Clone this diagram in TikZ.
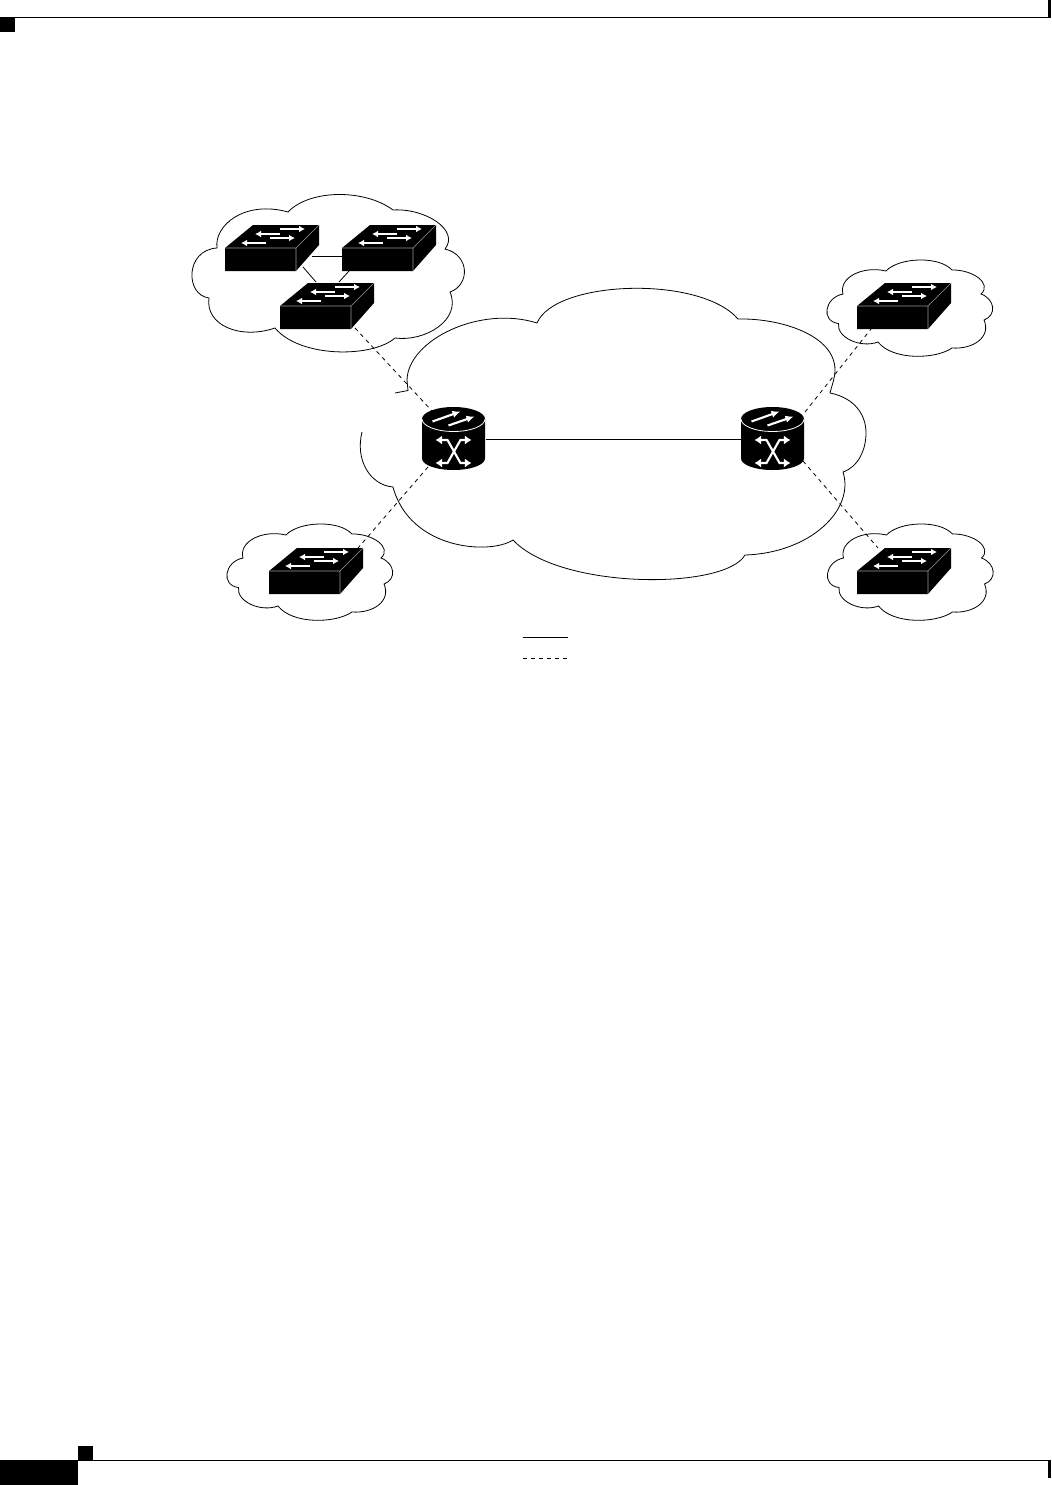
\documentclass[tikz,border=0pt]{standalone}
\usepackage{tikz}
\usetikzlibrary{arrows.meta}

\tikzset{
  hair/.style={line width=0.6pt},
  arrowline/.style={white,line width=1.3pt},
  switchbox/.pic={
    % top face, front face
    \fill[black] (0,0) -- (28,-23) -- (94,-23) -- (94,-3) -- (71,23) -- (0,23) -- cycle;
    \draw[white!60!black,line width=0.5pt] (0,0) -- (71,0) -- (94,-23) (71,0) -- (71,23);
    \foreach \xa/\xb/\ya in {55/80/-19,55/30/-14,45/70/-10,41/16/-5}
      \draw[arrowline,-{Latex[length=4.5pt,width=5pt]}] (\xa,\ya) -- (\xb,\ya);
    \coordinate (-ea) at (87,8);
    \coordinate (-we) at (0,8);
    \coordinate (-se) at (75,22);
    \coordinate (-sa) at (78,19);
    \coordinate (-sb) at (7,23);
    \coordinate (-so) at (14,23);
    \coordinate (-na) at (36,-24);
    \coordinate (-nb) at (59,-24);
    \coordinate (-nc) at (89,-23);
    \coordinate (-no) at (21,-23);
  },
  routerbox/.pic={
    \fill[black] (-31.5,-19.5) arc[start angle=180,end angle=360,x radius=31.5,y radius=12]
      -- (31.5,20) arc[start angle=0,end angle=180,x radius=31.5,y radius=11.5] -- cycle;
    \draw[white,line width=0.6pt] (-31.5,-19.5) arc[start angle=180,end angle=0,x radius=31.5,y radius=12.5];
    \draw[arrowline,line width=1.6pt,-{Latex[length=6pt,width=5.5pt]}] (-21,-17) -- (7,-27);
    \draw[arrowline,line width=1.6pt,-{Latex[length=6pt,width=5.5pt]}] (-5,-13) -- (21,-22);
    \draw[arrowline,line width=1.6pt,{Latex[length=5pt,width=7pt]}-{Latex[length=5pt,width=7pt]}]
      (-18,1.5) -- (-6,1.5) -- (7,24.5) -- (18,24.5);
    \draw[arrowline,line width=1.6pt,{Latex[length=5pt,width=7pt]}-{Latex[length=5pt,width=7pt]}]
      (18,1.5) -- (7,1.5) -- (-6,24.5) -- (-18,24.5);
    \coordinate (-nw) at (-21.5,-27.5);
    \coordinate (-ne) at (32.5,-26.5);
    \coordinate (-sw) at (-25.5,28.5);
    \coordinate (-se) at (30.5,22.5);
    \coordinate (-we) at (-31.5,0.5);
    \coordinate (-ea) at (32,0.5);
  },
  smallcloud/.pic={
    \draw[hair] (-24.5,-36.5) .. controls (-12,-50) and (28,-52) .. (41.5,-37.5)
      .. controls (62,-38) and (82,-24) .. (70.5,-13.5)
      .. controls (85,-8) and (86,8) .. (73.5,12.5)
      .. controls (81,30) and (62,42) .. (41.5,40.5)
      .. controls (25,52) and (-18,53) .. (-32.5,34.5)
      .. controls (-50,41) and (-74,30) .. (-72,16)
      .. controls (-90,14) and (-86,-10) .. (-67.5,-13.5)
      .. controls (-72,-30) and (-48,-42) .. (-24.5,-36.5);
  },
}

\begin{document}
\begin{tikzpicture}[x=0.75pt,y=-0.75pt]
  \useasboundingbox (0,0) rectangle (1051,1485);

  % Page marks
  \fill (0,17) rectangle (15,32);
  \fill (0,1460) rectangle (78,1485);
  \fill (78,1446) rectangle (93,1460);
  \fill (0,16.7) rectangle (1051,17.8);
  \fill (78,1460) rectangle (1051,1461);
  \fill (1048,0) rectangle (1051,17.8);
  \fill (1048,1460) rectangle (1051,1478);

  % Clouds
  \draw[hair] (288,212) .. controls (310,189) and (365,189) .. (393,210)
    .. controls (425,208) and (460,230) .. (445,249)
    .. controls (470,255) and (470,285) .. (450,292)
    .. controls (462,320) and (425,342) .. (395,338)
    .. controls (372,358) and (300,358) .. (275,328)
    .. controls (240,340) and (205,325) .. (209,298)
    .. controls (185,295) and (185,250) .. (217,248)
    .. controls (214,225) and (245,200) .. (288,212);
  \draw[hair] (395,393) -- (408,390.5) -- (407,380)
    .. controls (408,340) and (480,305) .. (537,323)
    .. controls (555,280) and (700,275) .. (738,319)
    .. controls (780,318) and (835,335) .. (835,370)
    .. controls (835,378) and (832,385) .. (830,393)
    .. controls (855,398) and (866,415) .. (866,433)
    .. controls (866,450) and (858,467) .. (843,472)
    .. controls (855,510) and (810,553) .. (745,555)
    .. controls (725,590) and (560,590) .. (513,540)
    .. controls (490,555) and (410,550) .. (393,487)
    .. controls (370,485) and (355,460) .. (362,432);
  \pic at (310.5,571.5) {smallcloud};
  \pic at (910.5,307.5) {smallcloud};
  \pic at (911,571.5) {smallcloud};

  % Switches
  \pic (swa) at (225,248) {switchbox};
  \pic (swb) at (342,248) {switchbox};
  \pic (swc) at (280,306) {switchbox};
  \pic (swd) at (857,306) {switchbox};
  \pic (swe) at (269,571) {switchbox};
  \pic (swf) at (857,571) {switchbox};

  % Routers
  \pic (rta) at (453.5,438.5) {routerbox};
  \pic (rtb) at (772.5,438.5) {routerbox};

  % Links
  \draw[hair] (swa-ea) -- (swb-we);
  \draw[hair] (swa-sa) -- (swc-na);
  \draw[hair] (swb-sb) -- (swc-nb);
  \draw[hair] (rta-ea) -- (rtb-we);
  \draw[hair,dashed] (swc-se) -- (rta-nw);
  \draw[hair,dashed] (rta-sw) -- (swe-nc);
  \draw[hair,dashed] (rtb-ne) -- (swd-so);
  \draw[hair,dashed] (rtb-se) -- (swf-no);

  % Legend
  \coordinate (lega) at (523,637);
  \coordinate (legb) at (568,637);
  \coordinate (legc) at (523,658.5);
  \coordinate (legd) at (568,658.5);
  \draw[hair] (lega) -- (legb);
  \draw[hair,dashed] (legc) -- (legd);
\end{tikzpicture}
\end{document}
